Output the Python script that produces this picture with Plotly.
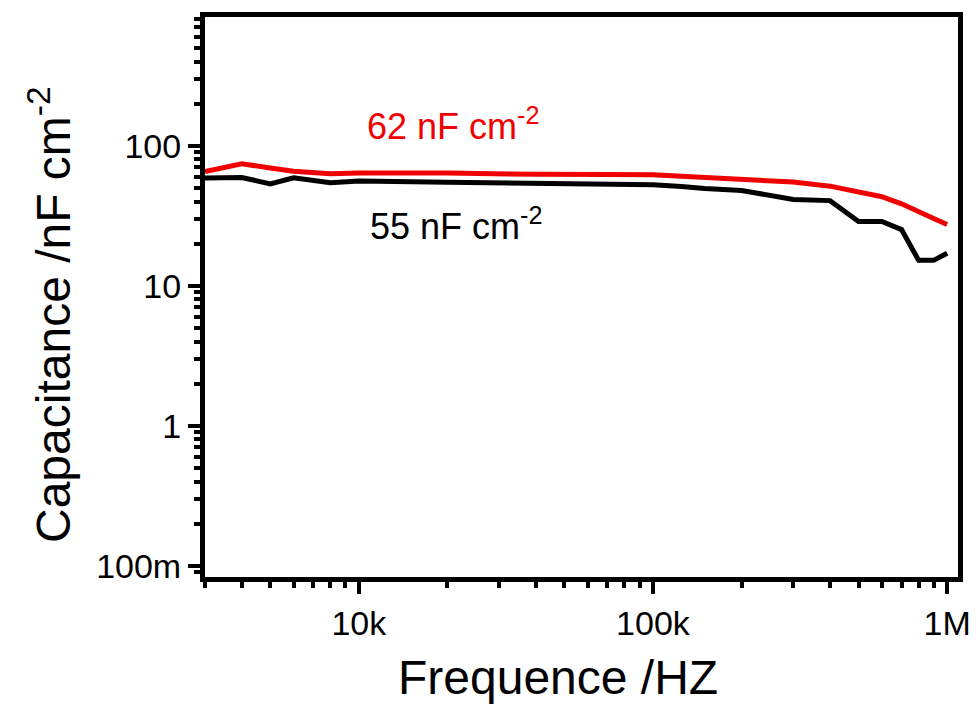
import plotly.graph_objects as go
import numpy as np

freq = [3000, 4000, 5000, 6000, 8000, 10000, 20000, 30000, 40000, 70000,
        100000, 125000, 150000, 200000, 250000, 300000, 400000, 500000,
        600000, 700000, 800000, 900000, 1000000]
cap_red = [65.5, 74.4, 69.5, 65.8, 63.1, 64.0, 63.9, 63.9, 62.6, 62.5,
           62.1, 60.5, 59.2, 57.6, 56.0, 55.1, 51.5, 47.2,
           43.3, 38.5, 33.5, 30.2, 27.4]
cap_black = [58.8, 59.4, 53.5, 59.0, 54.5, 56.0, 55.0, 54.6, 54.2, 54.0,
             52.6, 51.2, 49.5, 48.0, 44.2, 41.3, 40.6, 28.8,
             28.8, 25.2, 15.2, 15.2, 17.1]

x_tickvals = [1e4, 1e5, 1e6]
x_ticktext = ["10k", "100k", "1M"]
y_tickvals = [0.1, 1, 10, 100]
y_ticktext = ["100m", "1", "10", "100"]

label_red = "62 nF cm<sup>-2</sup>"
label_black = "55 nF cm<sup>-2</sup>"
x_title = "Frequence /HZ"
y_title = "Capacitance /nF cm<sup>-2</sup>"

FONT = "Arial, Liberation Sans, Helvetica, sans-serif"

x_minor = [m * 10 ** d for d in range(3, 7) for m in range(2, 10) if 3000 <= m * 10 ** d <= 1.1e6]
y_minor = [m * 10.0 ** d for d in range(-2, 3) for m in range(2, 10) if 0.083 <= m * 10.0 ** d <= 840]

fig = go.Figure()
fig.add_trace(go.Scatter(x=freq, y=cap_black, mode="lines",
                         line=dict(color="#000000", width=5), showlegend=False))
fig.add_trace(go.Scatter(x=freq, y=cap_red, mode="lines",
                         line=dict(color="#f00000", width=5), showlegend=False))

axis_common = dict(
    showgrid=False, zeroline=False, showline=True, linecolor="black",
    linewidth=5, mirror=True, ticks="outside", ticklen=12, tickwidth=4,
    tickcolor="black", tickfont=dict(family=FONT, size=34, color="black"),
    automargin=False, ticklabeloverflow="allow",
)

fig.update_xaxes(type="log", range=[np.log10(3000), 6.037],
                 tickvals=x_tickvals, ticktext=x_ticktext,
                 minor=dict(tickvals=x_minor, ticks="outside", ticklen=6,
                            tickwidth=4, tickcolor="black"),
                 **axis_common)
fig.update_yaxes(type="log", range=[-1.08, 2.92],
                 tickvals=y_tickvals, ticktext=y_ticktext,
                 minor=dict(tickvals=y_minor, ticks="outside", ticklen=6,
                            tickwidth=4, tickcolor="black"),
                 **axis_common)

fig.add_annotation(text=label_red, xref="paper", yref="paper",
                   x=(365 - 205) / 753, y=(577 - 124) / 560,
                   xanchor="left", yanchor="middle", showarrow=False,
                   font=dict(family=FONT, size=36, color="#f00000"))
fig.add_annotation(text=label_black, xref="paper", yref="paper",
                   x=(368 - 205) / 753, y=(577 - 224) / 560,
                   xanchor="left", yanchor="middle", showarrow=False,
                   font=dict(family=FONT, size=36, color="black"))
fig.add_annotation(text=x_title, xref="paper", yref="paper",
                   x=(558 - 205) / 753, y=(577 - 677) / 560,
                   xanchor="center", yanchor="middle", showarrow=False,
                   font=dict(family=FONT, size=48, color="black"))
fig.add_annotation(text=y_title, xref="paper", yref="paper",
                   x=(50 - 205) / 753, y=(577 - 315) / 560, textangle=-90,
                   xanchor="center", yanchor="middle", showarrow=False,
                   font=dict(family=FONT, size=48, color="black"))

fig.update_layout(width=976, height=709, plot_bgcolor="white",
                  paper_bgcolor="white", hovermode=False,
                  margin=dict(l=205, r=18, t=17, b=132, autoexpand=False))

# remove the default 8px page margin so the figure fills the window exactly
fig.write_html("out.html",
               config={"displayModeBar": False, "staticPlot": True},
               post_script="document.body.style.margin='0px';"
                           "document.documentElement.style.overflow='hidden';")
